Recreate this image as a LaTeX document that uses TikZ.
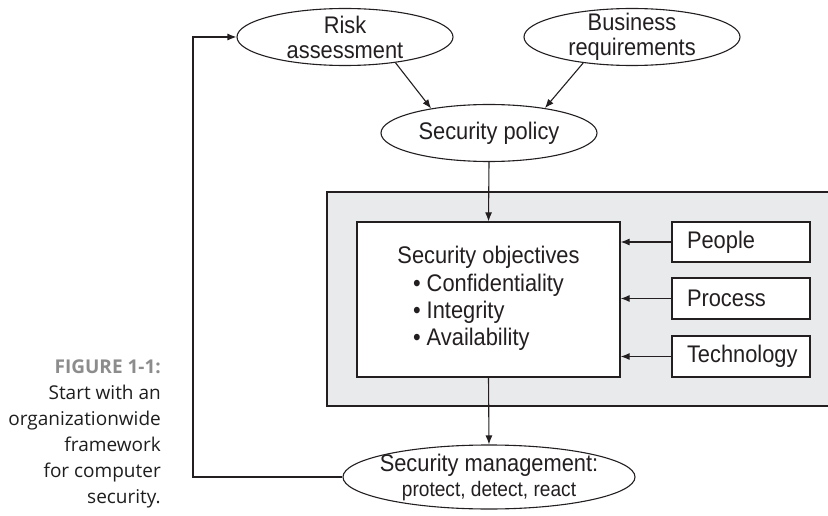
\documentclass[tikz,border=0pt]{standalone}
\usepackage{fontspec}
\setmainfont{Liberation Sans}
\newfontfamily\diagfont{Liberation Sans}[FakeStretch=0.91]
\newfontfamily\capfont{Open Sans}
\usetikzlibrary{shapes.geometric, arrows.meta, positioning, calc}
\definecolor{inkgray}{RGB}{35, 31, 32}
\definecolor{panelgray}{RGB}{233, 234, 236}
\definecolor{figgray}{RGB}{140, 140, 140}
\definecolor{captext}{RGB}{30, 30, 30}

\tikzset{
  bubble/.style={draw=inkgray, line width=1.1pt, ellipse, inner sep=-6pt,
    minimum width=216pt, minimum height=57pt, align=center,
    font=\diagfont\fontsize{24}{25}\selectfont, text=inkgray},
  panel/.style={draw=inkgray, fill=panelgray, line width=1.2pt},
  objbox/.style={draw=inkgray, fill=white, line width=1.2pt, minimum width=263pt,
    minimum height=155pt, align=center, inner sep=0pt,
    font=\diagfont\fontsize{24}{27}\selectfont, text=inkgray},
  factorbox/.style={draw=inkgray, fill=white, line width=1.2pt, text width=108pt,
    inner xsep=15pt, minimum height=40pt, align=left,
    font=\diagfont\fontsize{24}{27}\selectfont, text=inkgray},
  flow/.style={draw=inkgray, line width=1.1pt, -{Latex[length=9pt, width=7pt]}}
}

\begin{document}
\begin{tikzpicture}[x=1pt, y=-1pt]
  \useasboundingbox (0,0) rectangle (828,516);

  % top inputs and policy
  \node[bubble] (risk) at (345,37) {Risk\\assessment};
  \node[bubble] (business) at (632,37) {Business\\requirements};
  \node[bubble] (policy) at (489,133) {Security policy};

  % framework panel (runs off the right edge)
  \draw[panel] (327,192) rectangle (845,406);

  \node[objbox] (objectives) at (488.5,299.5) {Security objectives\\[3pt]
    \begin{tabular}{@{}l@{}}
      \textbullet\ Confidentiality\\
      \textbullet\ Integrity\\
      \textbullet\ Availability
    \end{tabular}};

  \node[factorbox] (people) at (741,242) {People};
  \node[factorbox, minimum height=41pt] (process) at (741,298.5) {Process};
  \node[factorbox, minimum height=41pt] (technology) at (741,356.5) {Technology};

  \node[bubble, minimum width=288pt, minimum height=64pt] (mgmt) at (489,477)
    {Security management:\\[0pt]{\fontsize{21}{24}\selectfont protect, detect, react}};

  % connectors
  \draw[flow] (risk.-27) -- (policy.157);
  \draw[flow] (business.-152) -- (policy.24);
  \draw[flow] (policy.south) -- (objectives.north);
  \foreach \f in {people, process, technology}
    \draw[flow] (\f.west) -- (\f.west -| objectives.east);
  \draw[flow] (objectives.south) -- (mgmt.north);

  % feedback loop
  \coordinate (loop) at (193,0);
  \draw[flow] (mgmt.west) -- (mgmt.west -| loop) -- (risk.west -| loop) -- (risk.west);

  % caption
  \node[anchor=north east, align=right, inner sep=0pt, text=captext,
    font=\capfont\fontsize{19}{26}\selectfont] (caption) at (161,360)
    {{\color{figgray}\bfseries FIGURE 1-1:}\\Start with an\\organizationwide\\framework\\for computer\\security.};
\end{tikzpicture}
\end{document}
